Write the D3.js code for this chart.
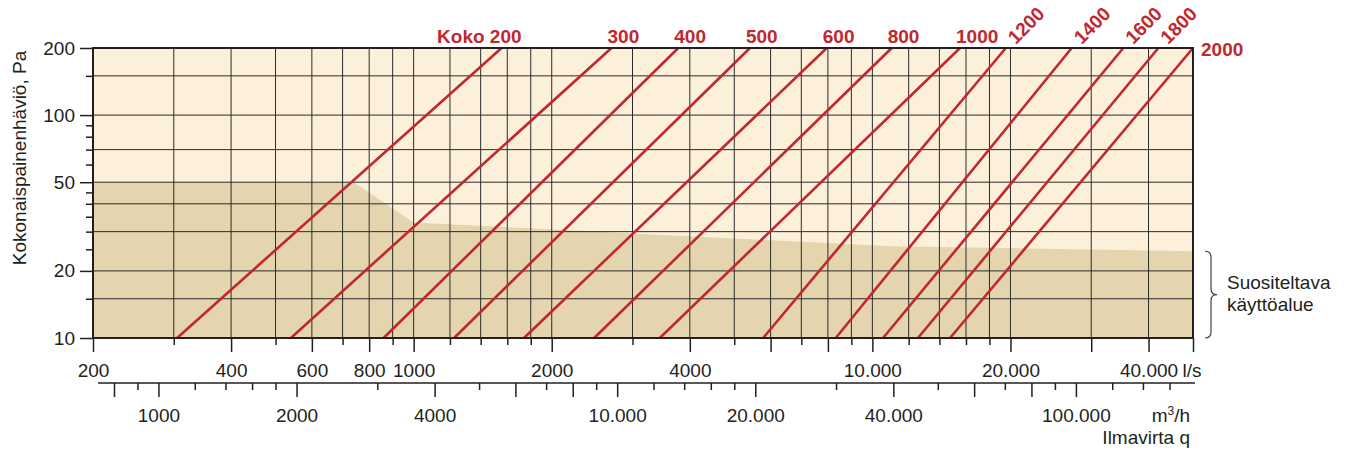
<!DOCTYPE html>
<html>
<head>
<meta charset="utf-8">
<script src="https://d3js.org/d3.v7.min.js"></script>
<style>
body { margin: 0; background: #fff; }
text { font-family: "Liberation Sans", Arial, sans-serif; fill: #231f20; }
.size-label { fill: #c1272d; font-weight: bold; }
</style>
</head>
<body>
<div id="chart"></div>
<script>
// duct sizes and air flow (l/s) where each line meets 10 Pa and 200 Pa
var sizes = [200, 300, 400, 500, 600, 800, 1000, 1200, 1400, 1600, 1800, 2000];
var flowAt10Pa = [305, 540, 860, 1225, 1740, 2475, 3440, 5780, 8320, 10550, 12570, 14770];
var flowAt200Pa = [1555, 2700, 3775, 5410, 7955, 11020, 15530, 19540, 27200, 35240, 42020, 50000];

// upper edge of the recommended operating area
var recFlow = [200, 740, 1000, 11000, 50000];
var recPressure = [50, 50, 33, 25.8, 24.5];

var yMajorTicks = [10, 20, 50, 100, 200];
var yMinorTicks = [15, 25, 30, 35, 40, 45, 60, 70, 80, 90, 150];
var yGrid = [15, 20, 30, 40, 50, 70, 100, 150];

var lsMajorTicks = [200, 400, 600, 800, 1000, 2000, 4000, 6000, 8000, 10000, 20000, 30000, 40000, 50000];
var lsMinorTicks = [300, 500, 700, 900, 1200, 1400, 1600, 1800, 3000, 5000, 7000, 9000, 12000, 14000, 16000, 18000];
var lsLabels = [200, 400, 600, 800, 1000, 2000, 4000, 10000, 20000, 40000];

var m3MajorTicks = [800, 1000, 2000, 4000, 6000, 8000, 10000, 20000, 40000, 60000, 80000, 100000];
var m3MinorTicks = [900, 1200, 1400, 1600, 1800, 3000, 5000, 7000, 9000, 12000, 14000, 16000, 18000, 30000, 50000, 70000, 90000, 120000, 140000, 160000];
var m3Labels = [1000, 2000, 4000, 10000, 20000, 40000, 100000];

var plot = {left: 93, right: 1193, top: 48, bottom: 338};

var svg = d3.select("#chart")
  .append("svg")
    .attr("width", 1349)
    .attr("height", 456);

var x = d3.scaleLog().domain([200, 50000]).range([plot.left, plot.right]);
var xm = d3.scaleLog().domain([200 * 3.6, 50000 * 3.6]).range([plot.left, plot.right]);
var y = d3.scaleLog().domain([10, 200]).range([plot.bottom, plot.top]);

var fmt = function(v) {
  return v >= 10000 ? d3.format(",")(v).replace(/,/g, ".") : String(v);
};

// background areas
svg.append("rect")
  .attr("x", plot.left).attr("y", plot.top)
  .attr("width", plot.right - plot.left).attr("height", plot.bottom - plot.top)
  .style("fill", "#fdf0da");

var area = d3.area()
  .x(function(d) { return x(d[0]); })
  .y0(y(10))
  .y1(function(d) { return y(d[1]); });

svg.append("path")
  .datum(recFlow.map(function(f, i) { return [f, recPressure[i]]; }))
  .attr("d", area)
  .style("fill", "#e4d5ae");

// grid
var grid = svg.append("g").attr("stroke", "#2b2b2b").attr("stroke-width", 1);
grid.selectAll(".vg")
  .data(lsMajorTicks.concat(lsMinorTicks).filter(function(d) { return d > 200 && d < 50000; }))
  .enter().append("line")
    .attr("x1", function(d) { return x(d); }).attr("x2", function(d) { return x(d); })
    .attr("y1", plot.top).attr("y2", plot.bottom);
grid.selectAll(".hg")
  .data(yGrid)
  .enter().append("line")
    .attr("y1", function(d) { return y(d); }).attr("y2", function(d) { return y(d); })
    .attr("x1", plot.left).attr("x2", plot.right);

// size lines
svg.append("g")
  .selectAll("line")
  .data(sizes)
  .enter()
  .append("line")
    .attr("x1", function(d, i) { return x(flowAt10Pa[i]); })
    .attr("y1", y(10))
    .attr("x2", function(d, i) { return x(flowAt200Pa[i]); })
    .attr("y2", y(200))
    .attr("stroke", "#c1272d")
    .attr("stroke-width", 2.6);

// frame
svg.append("rect")
  .attr("x", plot.left).attr("y", plot.top)
  .attr("width", plot.right - plot.left).attr("height", plot.bottom - plot.top)
  .attr("fill", "none")
  .attr("stroke", "#231f20")
  .attr("stroke-width", 2);

// size labels
sizes.forEach(function(s, i) {
  var tx = x(flowAt200Pa[i]);
  if (i == 0) {
    svg.append("text").attr("class", "size-label")
      .attr("x", tx + 20).attr("y", 43)
      .attr("text-anchor", "end")
      .style("font-size", "19px")
      .text("Koko " + s);
  } else if (s <= 1000) {
    svg.append("text").attr("class", "size-label")
      .attr("x", tx - 4).attr("y", 43)
      .style("font-size", "19px")
      .text(s);
  } else if (s < 2000) {
    svg.append("text").attr("class", "size-label")
      .attr("transform", "translate(" + (tx + 10) + ",45) rotate(-45)")
      .style("font-size", "19px")
      .text(s);
  } else {
    svg.append("text").attr("class", "size-label")
      .attr("x", tx + 8).attr("y", 56)
      .style("font-size", "19px")
      .text(s);
  }
});

// y axis
function styleAxis(g) {
  g.select(".domain").remove();
  g.selectAll(".tick line").attr("stroke", "#231f20").attr("stroke-width", 1.5);
  g.selectAll(".tick text").style("font-size", "19px").attr("fill", "#231f20");
}

svg.append("g")
  .attr("transform", "translate(" + plot.left + ",0)")
  .call(d3.axisLeft(y).tickValues(yMajorTicks).tickSize(13).tickPadding(5).tickFormat(fmt))
  .call(styleAxis);
svg.append("g")
  .attr("transform", "translate(" + plot.left + ",0)")
  .call(d3.axisLeft(y).tickValues(yMinorTicks).tickSize(7).tickFormat(""))
  .call(styleAxis);

svg.append("text")
  .attr("transform", "translate(26,158) rotate(-90)")
  .attr("text-anchor", "middle")
  .style("font-size", "19px")
  .text("Kokonaispainenhäviö, Pa");

// l/s axis
svg.append("g")
  .attr("transform", "translate(0," + plot.bottom + ")")
  .call(d3.axisBottom(x).tickValues(lsMajorTicks).tickSize(14).tickPadding(12)
    .tickFormat(function(d) { return lsLabels.indexOf(d) >= 0 ? fmt(d) : ""; }))
  .call(styleAxis);
svg.append("g")
  .attr("transform", "translate(0," + plot.bottom + ")")
  .call(d3.axisBottom(x).tickValues(lsMinorTicks).tickSize(7).tickFormat(""))
  .call(styleAxis);

svg.append("text")
  .attr("x", x(40000) + 34).attr("y", 377)
  .style("font-size", "19px")
  .text("l/s");

// m3/h axis
var m3y = 383;
svg.append("line")
  .attr("x1", 98).attr("x2", 1195)
  .attr("y1", m3y).attr("y2", m3y)
  .attr("stroke", "#231f20").attr("stroke-width", 1.5);
svg.append("g")
  .attr("transform", "translate(0," + m3y + ")")
  .call(d3.axisBottom(xm).tickValues(m3MajorTicks).tickSize(14).tickPadding(12)
    .tickFormat(function(d) { return m3Labels.indexOf(d) >= 0 ? fmt(d) : ""; }))
  .call(styleAxis);
svg.append("g")
  .attr("transform", "translate(0," + m3y + ")")
  .call(d3.axisBottom(xm).tickValues(m3MinorTicks).tickSize(7).tickFormat(""))
  .call(styleAxis);

var unit = svg.append("text")
  .attr("x", 1190).attr("y", 422)
  .attr("text-anchor", "end")
  .style("font-size", "19px");
unit.append("tspan").text("m");
unit.append("tspan").attr("dy", -7).style("font-size", "12px").text("3");
unit.append("tspan").attr("dy", 7).text("/h");

svg.append("text")
  .attr("x", 1190).attr("y", 444)
  .attr("text-anchor", "end")
  .style("font-size", "19px")
  .text("Ilmavirta q");

// recommended area brace
var bt = y(recPressure[recPressure.length - 1]), bb = y(10), bm = (bt + bb) / 2;
svg.append("path")
  .attr("d", "M1205," + bt + " Q1211," + bt + " 1211," + (bt + 6) +
             " L1211," + (bm - 6) + " Q1211," + bm + " 1217," + bm +
             " Q1211," + bm + " 1211," + (bm + 6) +
             " L1211," + (bb - 6) + " Q1211," + bb + " 1205," + bb)
  .attr("fill", "none")
  .attr("stroke", "#444")
  .attr("stroke-width", 1.2);

svg.append("text")
  .attr("x", 1227).attr("y", 289)
  .style("font-size", "19px")
  .text("Suositeltava");
svg.append("text")
  .attr("x", 1227).attr("y", 311)
  .style("font-size", "19px")
  .text("käyttöalue");
</script>
</body>
</html>
